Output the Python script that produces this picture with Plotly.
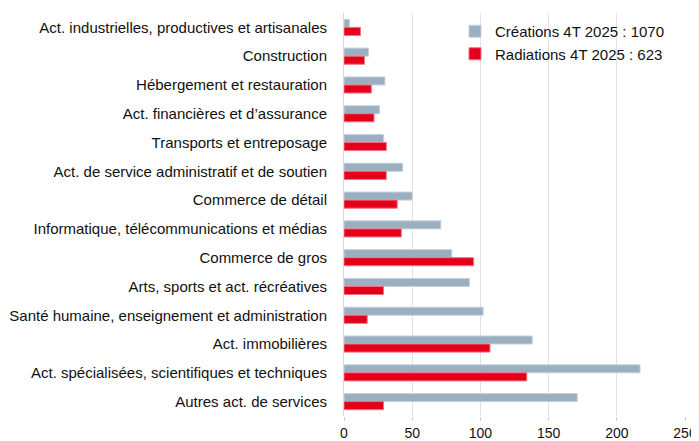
import plotly.graph_objects as go

categories = [
    "Act. industrielles, productives et artisanales",
    "Construction",
    "Hébergement et restauration",
    "Act. financières et d’assurance",
    "Transports et entreposage",
    "Act. de service administratif et de soutien",
    "Commerce de détail",
    "Informatique, télécommunications et médias",
    "Commerce de gros",
    "Arts, sports et act. récréatives",
    "Santé humaine, enseignement et administration",
    "Act. immobilières",
    "Act. spécialisées, scientifiques et techniques",
    "Autres act. de services",
]
creations = [4, 18, 30, 26, 29, 43, 50, 71, 79, 92, 102, 138, 217, 171]
radiations = [12, 15, 20, 22, 31, 31, 39, 42, 95, 29, 17, 107, 134, 29]
series_names = ["Créations 4T 2025 : 1070", "Radiations 4T 2025 : 623"]
x_ticks = [0, 50, 100, 150, 200, 250]

GREY = "#9AAFC0"
RED = "#E2001A"

fig = go.Figure()
fig.add_trace(go.Bar(y=categories, x=creations, orientation="h", name=series_names[0],
                     marker=dict(color=GREY, line=dict(color="#C5D2DD", width=1))))
fig.add_trace(go.Bar(y=categories, x=radiations, orientation="h", name=series_names[1],
                     marker=dict(color=RED, line=dict(color="#F07080", width=1))))

# the page body has an 8px margin, so the figure is sized 8px smaller
fig.update_layout(
    width=691, height=433,
    margin=dict(l=336, r=14, t=5, b=25),
    paper_bgcolor="white", plot_bgcolor="white",
    font=dict(family="Liberation Sans, Arial, sans-serif", size=15, color="#111111"),
    barmode="group", bargap=0.44, bargroupgap=0.0,
    showlegend=True,
    legend=dict(x=0.3255, y=0.995, xanchor="left", yanchor="top", bgcolor="rgba(255,255,255,0)",
                font=dict(size=15), itemwidth=30, tracegroupgap=0),
    xaxis=dict(range=[0, 250], tickvals=x_ticks, showgrid=True, gridcolor="#E2E2E2", gridwidth=1,
               zeroline=False, showline=False, ticks="outside", ticklen=4, tickcolor="#D0D0D0",
               tickfont=dict(size=14), automargin=False),
    yaxis=dict(autorange="reversed", showline=True, linecolor="#D8D8D8", linewidth=1,
               ticks="", ticklabelstandoff=13, tickfont=dict(size=15), automargin=False),
)

fig.write_html("out.html")
